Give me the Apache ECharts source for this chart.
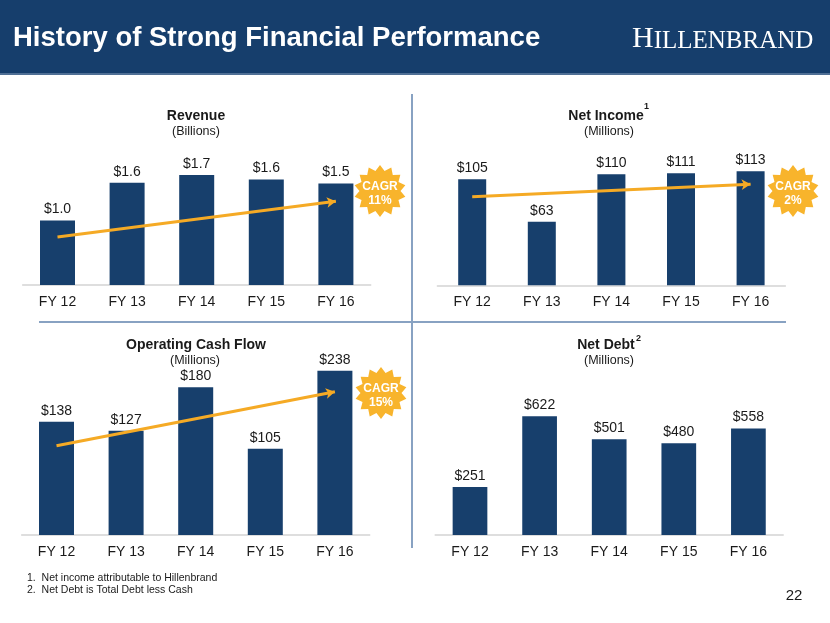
<!DOCTYPE html>
<html>
<head>
<meta charset="utf-8">
<script src="https://cdn.jsdelivr.net/npm/echarts@6/dist/echarts.min.js"></script>
<style>
html,body{margin:0;padding:0;background:#fff;}
#c{width:830px;height:623px;}
</style>
</head>
<body>
<div id="c"></div>
<script>
// ---- data ----
const categories = ['FY 12', 'FY 13', 'FY 14', 'FY 15', 'FY 16'];

const revenueValues = [0.98, 1.55, 1.67, 1.60, 1.54];
const revenueLabels = ['$1.0', '$1.6', '$1.7', '$1.6', '$1.5'];
const revenueTrend = [0.73, 1.27];
const revenueCagr = '11%';

const netIncomeValues = [105, 63, 110, 111, 113];
const netIncomeLabels = ['$105', '$63', '$110', '$111', '$113'];
const netIncomeTrend = [87.7, 100];
const netIncomeCagr = '2%';

const cashFlowValues = [138, 127, 180, 105, 238];
const cashFlowLabels = ['$138', '$127', '$180', '$105', '$238'];
const cashFlowTrend = [108.8, 174.5];
const cashFlowCagr = '15%';

const netDebtValues = [251, 622, 501, 480, 558];
const netDebtLabels = ['$251', '$622', '$501', '$480', '$558'];

const footnotes = ['1.  Net income attributable to Hillenbrand', '2.  Net Debt is Total Debt less Cash'];
const pageNumber = '22';

// ---- styles ----
const FONT = 'Arial, "Liberation Sans", sans-serif';
const NAVY = '#173f6c';
const ORANGE_LINE = '#f5aa25';
const ORANGE_BADGE = '#f8b42c';
const TEXT = '#1a1a1a';

const chart = echarts.init(document.getElementById('c'), null, {renderer: 'canvas'});

const grids = [
  {left: 22.7, width: 348, top: 153.2, height: 131.8},
  {left: 437.4, width: 348, top: 164.1, height: 121.2},
  {left: 21.7, width: 348, top: 370.8, height: 164.2},
  {left: 435.2, width: 348, top: 401.3, height: 133.7}
];
const yMax = [2.0, 120, 200, 700];
const barWidths = [35, 28, 35, 34.7];

const xAxes = grids.map((g, i) => ({
  type: 'category', gridIndex: i, data: categories,
  axisLine: {show: true, lineStyle: {color: '#d3d3d3', width: 1.5}},
  axisTick: {show: false},
  axisLabel: {color: TEXT, fontFamily: FONT, fontSize: 14, margin: 10}
}));
const yAxes = grids.map((g, i) => ({
  type: 'value', gridIndex: i, min: 0, max: yMax[i], show: false, splitLine: {show: false}
}));

function barSeries(i, values, labels, trend) {
  const s = {
    type: 'bar', xAxisIndex: i, yAxisIndex: i, data: values,
    barWidth: barWidths[i], clip: true,
    itemStyle: {color: NAVY},
    label: {show: true, position: 'top', distance: 4, color: TEXT, fontFamily: FONT, fontSize: 14,
      formatter: p => labels[p.dataIndex]},
    silent: true
  };
  if (trend) {
    s.markLine = {
      silent: true, symbol: ['none', 'arrow'], symbolSize: [8, 9],
      lineStyle: {color: ORANGE_LINE, width: 3, type: 'solid'},
      label: {show: false},
      data: [[{coord: [categories[0], trend[0]]}, {coord: [categories[categories.length - 1], trend[1]]}]]
    };
  }
  return s;
}

function starPoints(cx, cy, ro, ri, n) {
  const pts = [];
  for (let k = 0; k < n * 2; k++) {
    const r = k % 2 === 0 ? ro : ri;
    const a = Math.PI * k / n - Math.PI / 2;
    pts.push([cx + r * Math.cos(a), cy + r * Math.sin(a)]);
  }
  return pts;
}
function badge(cx, cy, pct) {
  return [
    {type: 'polygon', shape: {points: starPoints(cx, cy, 26, 20.5, 14)}, style: {fill: ORANGE_BADGE}, z: 10},
    {type: 'text', x: cx, y: cy - 4, z: 11, style: {text: 'CAGR', fill: '#fff', font: 'bold 12px ' + FONT, textAlign: 'center', textVerticalAlign: 'middle'}},
    {type: 'text', x: cx, y: cy + 10, z: 11, style: {text: pct, fill: '#fff', font: 'bold 12px ' + FONT, textAlign: 'center', textVerticalAlign: 'middle'}}
  ];
}
function txt(x, y, text, font, align, color) {
  return {type: 'text', x: x, y: y, z: 5, style: {text: text, fill: color || TEXT, font: font, textAlign: align || 'center', textVerticalAlign: 'middle'}};
}

const graphics = [
  // header band
  {type: 'rect', shape: {x: 0, y: 0, width: 830, height: 73}, style: {fill: '#163e6c'}, z: 1},
  {type: 'rect', shape: {x: 0, y: 73, width: 830, height: 2}, style: {fill: '#4f6f95'}, z: 1},
  txt(13, 38, 'History of Strong Financial Performance', 'bold 27.5px ' + FONT, 'left', '#ffffff'),
  {type: 'text', x: 632, y: 39, z: 5, style: {
    text: '{a|H}{b|ILLENBRAND}', textAlign: 'left', textVerticalAlign: 'middle', fill: '#fff',
    rich: {
      a: {fontFamily: '"Liberation Serif", "DejaVu Serif", serif', fontSize: 30, color: '#fff', verticalAlign: 'bottom'},
      b: {fontFamily: '"Liberation Serif", "DejaVu Serif", serif', fontSize: 25, color: '#fff', verticalAlign: 'bottom'}
    }}},
  // dividers
  {type: 'line', shape: {x1: 412, y1: 94, x2: 412, y2: 548}, style: {stroke: '#88a2c2', lineWidth: 2}, z: 2},
  {type: 'line', shape: {x1: 39, y1: 322, x2: 786, y2: 322}, style: {stroke: '#88a2c2', lineWidth: 2}, z: 2},
  // panel titles
  txt(196, 116, 'Revenue', 'bold 14px ' + FONT),
  txt(196, 132, '(Billions)', '12.5px ' + FONT),
  txt(606, 116, 'Net Income', 'bold 14px ' + FONT),
  txt(644, 107, '1', 'bold 9px ' + FONT, 'left'),
  txt(609, 132, '(Millions)', '12.5px ' + FONT),
  txt(196, 345, 'Operating Cash Flow', 'bold 14px ' + FONT),
  txt(195, 361, '(Millions)', '12.5px ' + FONT),
  txt(606, 345, 'Net Debt', 'bold 14px ' + FONT),
  txt(636, 339, '2', 'bold 9px ' + FONT, 'left'),
  txt(609, 361, '(Millions)', '12.5px ' + FONT),
  // footnotes
  txt(27, 578, footnotes[0], '10.5px ' + FONT, 'left'),
  txt(27, 590, footnotes[1], '10.5px ' + FONT, 'left'),
  txt(794, 596, pageNumber, '15px ' + FONT, 'center')
].concat(badge(380, 191, revenueCagr), badge(793, 191, netIncomeCagr), badge(381, 393, cashFlowCagr));

chart.setOption({
  animation: false,
  backgroundColor: '#ffffff',
  grid: grids,
  xAxis: xAxes,
  yAxis: yAxes,
  series: [
    barSeries(0, revenueValues, revenueLabels, revenueTrend),
    barSeries(1, netIncomeValues, netIncomeLabels, netIncomeTrend),
    barSeries(2, cashFlowValues, cashFlowLabels, cashFlowTrend),
    barSeries(3, netDebtValues, netDebtLabels, null)
  ],
  graphic: graphics
});
</script>
</body>
</html>
